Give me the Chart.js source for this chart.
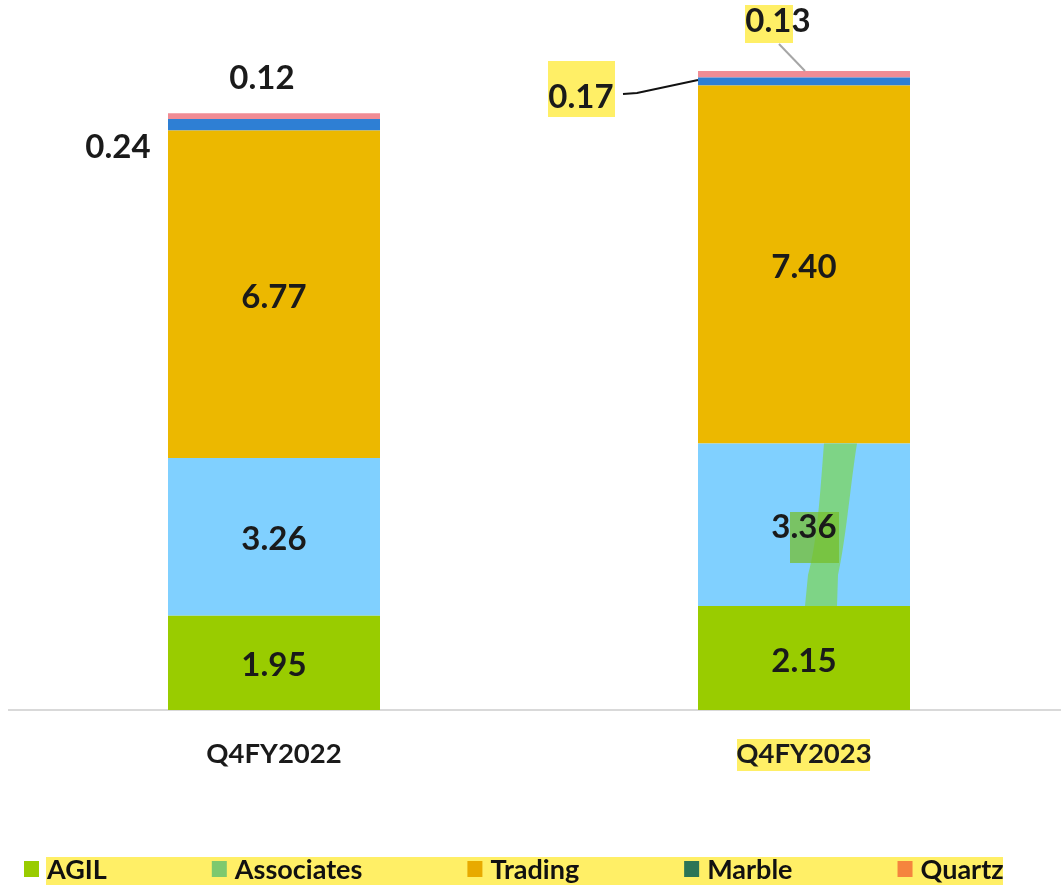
<!DOCTYPE html>
<html>
<head>
<meta charset="utf-8">
<script src="https://cdn.jsdelivr.net/npm/chart.js@4.4.1/dist/chart.umd.min.js"></script>
<style>
  html, body { margin: 0; padding: 0; background: #ffffff; overflow: hidden; }
  #wrap { position: relative; width: 1070px; height: 885px; }
</style>
</head>
<body>
<div id="wrap"><canvas id="c" width="1070" height="885"></canvas></div>
<script>
// Quarter categories
const categories = ['Q4FY2022', 'Q4FY2023'];

// Revenue segments (stacked from bottom to top)
const seriesNames = ['AGIL', 'Associates', 'Trading', 'Marble', 'Quartz'];
const agil       = [1.95, 2.15];
const associates = [3.26, 3.36];
const trading    = [6.77, 7.40];
const marble     = [0.24, 0.17];
const quartz     = [0.12, 0.13];

// Fill colours of the stacked segments
const barColors    = ['#99CC00', '#80D0FF', '#ECB800', '#2E7FD4', '#F08C95'];
// Swatch colours shown in the legend row
const legendColors = ['#99CC00', '#7DC96E', '#E8AA00', '#2C7556', '#F5843E'];

const FONT = 'Lato, "Open Sans", sans-serif';
const HILITE = '#FFEF66';

// Label placement per segment: 'c' = centred in the segment, otherwise a dx/dy from the segment centre
const labelPlacement = [
  [{ mode: 'c' }, { mode: 'c' }],
  [{ mode: 'c' }, { mode: 'c' }],
  [{ mode: 'c' }, { mode: 'c' }],
  [{ mode: 'o', dx: -156, dy: 23 }, { mode: 'o', dx: -223, dy: 16 }],
  [{ mode: 'o', dx: -12, dy: -38 }, { mode: 'o', dx: -26, dy: -53 }]
];

const seriesValues = [agil, associates, trading, marble, quartz];

const datasets = seriesNames.map((name, i) => ({
  label: name,
  data: seriesValues[i],
  backgroundColor: barColors[i],
  borderWidth: 0,
  barPercentage: 0.8,
  categoryPercentage: 0.5
}));

// Draws the decorative marker strokes and highlight boxes beneath the text
const markerPlugin = {
  id: 'markers',
  afterDatasetsDraw(chart) {
    const ctx = chart.ctx;
    const assoc = chart.getDatasetMeta(1).data[1];
    ctx.save();
    // green marker stroke through the Associates segment of the second bar
    ctx.fillStyle = 'rgba(126,212,130,0.97)';
    ctx.beginPath();
    ctx.moveTo(824, assoc.y);
    ctx.bezierCurveTo(821, 480, 818, 540, 808, 575);
    ctx.lineTo(805, assoc.base);
    ctx.lineTo(837, assoc.base);
    ctx.lineTo(838, 575);
    ctx.bezierCurveTo(846, 540, 851, 480, 857, assoc.y);
    ctx.closePath();
    ctx.fill();
    // green highlight square behind the label
    ctx.fillStyle = 'rgba(118,190,40,0.72)';
    ctx.fillRect(790, 512, 49, 51);
    ctx.restore();
  }
};

// Value labels and leader lines
const valueLabelPlugin = {
  id: 'valueLabels',
  afterDatasetsDraw(chart) {
    const ctx = chart.ctx;
    ctx.save();
    // yellow text highlights
    ctx.fillStyle = HILITE;
    ctx.fillRect(745, 5, 48, 38);
    ctx.fillRect(548, 61, 67, 56);
    // leader lines
    ctx.lineWidth = 2;
    ctx.strokeStyle = '#111111';
    ctx.beginPath();
    ctx.moveTo(623, 94); ctx.lineTo(637, 93); ctx.lineTo(698, 80);
    ctx.stroke();
    ctx.strokeStyle = '#A6A6A6';
    ctx.beginPath();
    ctx.moveTo(779, 44); ctx.lineTo(805, 71);
    ctx.stroke();

    ctx.font = 'bold 33px ' + FONT;
    ctx.fillStyle = '#1A1A1A';
    ctx.textAlign = 'center';
    ctx.textBaseline = 'middle';
    chart.data.datasets.forEach((ds, i) => {
      const meta = chart.getDatasetMeta(i);
      meta.data.forEach((bar, j) => {
        const p = labelPlacement[i][j];
        const cy = (bar.y + bar.base) / 2;
        let x = bar.x, y = cy + 3;
        if (p.mode !== 'c') { x = bar.x + p.dx; y = cy + p.dy; }
        ctx.fillText(ds.data[j].toFixed(2), x, y);
      });
    });
    ctx.restore();
  }
};

// Highlight behind the second category label, drawn before the axis text
const tickHilitePlugin = {
  id: 'tickHilite',
  beforeDraw(chart) {
    const ctx = chart.ctx;
    ctx.save();
    ctx.fillStyle = HILITE;
    ctx.fillRect(737, 739, 133, 32);
    ctx.restore();
  }
};

// Legend row drawn on the canvas with its own swatch colours
const legendRowPlugin = {
  id: 'legendRow',
  afterDraw(chart) {
    const ctx = chart.ctx;
    ctx.save();
    ctx.fillStyle = HILITE;
    ctx.fillRect(46, 857, 957, 28);
    ctx.font = 'bold 27px ' + FONT;
    ctx.textBaseline = 'middle';
    ctx.textAlign = 'left';
    let x = 24;
    const y = 869;
    seriesNames.forEach((name, i) => {
      ctx.fillStyle = legendColors[i];
      ctx.fillRect(x, y - 8, 15, 16);
      ctx.fillStyle = '#111111';
      ctx.fillText(name, x + 23, y + 1);
      x += 23 + ctx.measureText(name).width + 105;
    });
    ctx.restore();
  }
};

new Chart(document.getElementById('c'), {
  type: 'bar',
  data: { labels: categories, datasets },
  options: {
    responsive: false,
    animation: false,
    layout: { padding: { left: 9, right: 1, top: 0, bottom: 0 } },
    plugins: { legend: { display: false }, tooltip: { enabled: false } },
    scales: {
      x: {
        stacked: true,
        grid: { display: false, drawTicks: false },
        border: { display: true, color: '#D9D9D9', width: 2 },
        ticks: { color: '#1A1A1A', font: { family: FONT, size: 27.5, weight: 'bold' }, padding: 28 },
        afterFit(scale) { scale.height = 175; }
      },
      y: {
        stacked: true,
        display: false,
        min: 0,
        max: 14.68
      }
    }
  },
  plugins: [tickHilitePlugin, markerPlugin, valueLabelPlugin, legendRowPlugin]
});
</script>
</body>
</html>
